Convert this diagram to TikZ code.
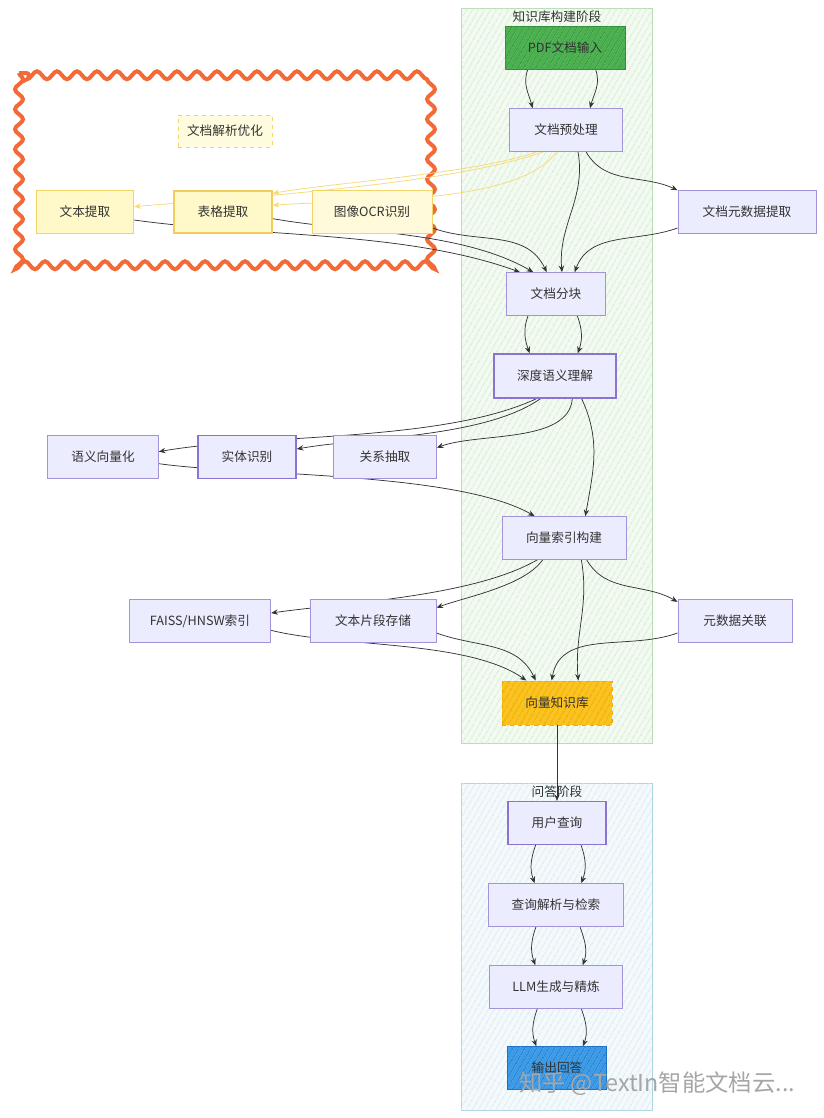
\documentclass[tikz,border=0pt]{standalone}
\usepackage{fontspec}
\setmainfont{Noto Sans CJK SC}
\usepackage{tikz}
\usepackage{xcolor}
\usetikzlibrary{positioning, arrows.meta, decorations.pathmorphing, patterns.meta}
\definecolor{lavfill}{HTML}{ECECFF}
\definecolor{lavline}{HTML}{A293DA}
\definecolor{lavdark}{HTML}{8B74CF}
\definecolor{edgegray}{HTML}{333333}
\definecolor{textgray}{HTML}{333333}
\definecolor{yfill}{HTML}{FFF8C8}
\definecolor{yline}{HTML}{F2D566}
\definecolor{yarrow}{HTML}{F5DA78}
\definecolor{pdfgreen}{HTML}{4BB04F}
\definecolor{pdfhatch}{HTML}{2F8F35}
\definecolor{kbamber}{HTML}{F9C322}
\definecolor{kbhatch}{HTML}{F2A900}
\definecolor{ansblue}{HTML}{3C9BE6}
\definecolor{anshatch}{HTML}{1C6FC6}
\definecolor{greenbg}{HTML}{F2FAF1}
\definecolor{greenline}{HTML}{B7DDB2}
\definecolor{greenhatch}{HTML}{CDEAC8}
\definecolor{bluebg}{HTML}{F4F9FC}
\definecolor{blueline}{HTML}{ABD4E6}
\definecolor{bluehatch}{HTML}{D3E7F1}
\definecolor{wavyorange}{HTML}{F26A38}
\pgfdeclarelayer{framelayer}
\pgfdeclarelayer{edgelayer}
\pgfsetlayers{framelayer,edgelayer,main}

\begin{document}
\begin{tikzpicture}[
    x=0.75pt, y=-0.75pt,
    font=\fontsize{9.5}{11}\selectfont,
    procbox/.style={rectangle, draw=lavline, fill=lavfill, line width=0.7pt, minimum height=32pt, inner sep=2pt, text=textgray},
    strongbox/.style={procbox, draw=lavdark, line width=1.1pt},
    parsebox/.style={rectangle, draw=yline, fill=yfill, line width=0.7pt, minimum height=32pt, inner sep=2pt, text=textgray},
    hatched/.style={postaction={pattern={Lines[angle=60,distance=4pt,line width=0.7pt]}, pattern color=#1}},
    phasebox/.style={rectangle, line width=0.7pt, inner sep=0pt},
    flow/.style={-{Stealth[length=5pt,width=4pt]}, draw=edgegray, line width=0.55pt},
    yflow/.style={flow, draw=yarrow}
]
\useasboundingbox (0,0) rectangle (824,1118);

% phase frames
\begin{pgfonlayer}{framelayer}
\fill[white] (0,0) rectangle (824,1118);
\node[phasebox, draw=greenline, fill=greenbg, hatched=greenhatch, minimum width=143.25pt, minimum height=551.25pt] (kbphase) at (556.5,375.5) {};
\node[phasebox, draw=blueline, fill=bluebg, hatched=bluehatch, minimum width=143.25pt, minimum height=245.25pt] (qaphase) at (556.5,946.5) {};
% parsing group
\draw[wavyorange, line width=3pt, decorate, decoration={snake, amplitude=3pt, segment length=15pt}] (19,73) rectangle (439,263);
\end{pgfonlayer}
\node[text=textgray, inner sep=0pt] (kbtitle) at (557,17) {知识库构建阶段};
\node[text=textgray, inner sep=0pt] (qatitle) at (557,792) {问答阶段};
\node[parsebox, dashed, fill=yfill!60, minimum width=70.5pt, minimum height=24pt] (optlabel) at (225,131) {文档解析优化};

% knowledge base nodes
\node[procbox, draw=pdfhatch, fill=pdfgreen, hatched=pdfhatch, minimum width=90pt] (pdf) at (565,48) {PDF文档输入};
\node[procbox, minimum width=85pt] (pre) at (566,130) {文档预处理};
\node[procbox, minimum width=103.5pt] (meta) at (747,212) {文档元数据提取};
\node[parsebox, minimum width=73pt] (txt) at (85,212) {文本提取};
\node[parsebox, draw=yline!90!orange, line width=1.6pt, minimum width=73pt] (tbl) at (223,212) {表格提取};
\node[parsebox, fill=yfill!70, minimum width=90pt] (ocr) at (372,212) {图像OCR识别};
\node[procbox, minimum width=74pt] (chunk) at (556,294) {文档分块};
\node[strongbox, minimum width=91.5pt, minimum height=33pt] (deep) at (555,376) {深度语义理解};
\node[procbox, minimum width=83pt] (vec) at (103,457) {语义向量化};
\node[strongbox, minimum width=73.5pt] (ent) at (247,457) {实体识别};
\node[procbox, minimum width=77pt] (rel) at (385,457) {关系抽取};
\node[procbox, minimum width=93pt] (idx) at (564,538) {向量索引构建};
\node[procbox, minimum width=106pt] (faiss) at (200,621) {FAISS/HNSW索引};
\node[procbox, minimum width=94.5pt] (frag) at (373,621) {文本片段存储};
\node[procbox, minimum width=85.5pt] (mlink) at (735,621) {元数据关联};
\node[procbox, draw=kbhatch, dashed, fill=kbamber, hatched=kbhatch, minimum width=82.5pt, minimum height=33pt] (kb) at (557,703) {向量知识库};

% question answering nodes
\node[strongbox, minimum width=73.5pt] (query) at (557,823) {用户查询};
\node[procbox, minimum width=101pt] (parse) at (556,905) {查询解析与检索};
\node[procbox, minimum width=100pt] (llm) at (556,987) {LLM生成与精炼};
\node[procbox, draw=anshatch, fill=ansblue, hatched=anshatch, minimum width=74pt] (ans) at (557,1068) {输出回答};

\begin{pgfonlayer}{edgelayer}
% edges: preprocessing
\draw[flow] ([xshift=-28pt]pdf.south) to[out=250,in=105] ([xshift=-25pt]pre.north);
\draw[flow] ([xshift=23pt]pdf.south) to[out=290,in=75] ([xshift=18pt]pre.north);
\draw[yflow] ([xshift=-17pt]pre.south) to[out=200,in=5,looseness=0.6] ([yshift=4pt]txt.east);
\draw[yflow] ([xshift=-22pt]pre.south) to[out=200,in=10,looseness=0.6] ([yshift=14pt]tbl.east);
\draw[yflow] ([xshift=-7pt]pre.south) to[out=235,in=5,looseness=0.6] ([yshift=5pt]tbl.east);
\draw[flow] ([xshift=15pt]pre.south) to[out=300,in=155] (meta.north west);
\draw[flow] ([xshift=9pt]pre.south) to[out=280,in=95] ([xshift=4.5pt]chunk.north);
\draw[flow] ([yshift=-6pt]txt.east) to[out=-8,in=160,looseness=0.8] ([xshift=-27pt]chunk.north);
\draw[flow] ([yshift=-5pt]tbl.east) to[out=-10,in=150,looseness=0.8] ([xshift=-17pt]chunk.north);
\draw[flow] ([yshift=-12pt]ocr.east) to[out=-20,in=115] ([xshift=-7pt]chunk.north);
\draw[flow] ([yshift=-12pt]meta.west) to[out=200,in=70] ([xshift=14pt]chunk.north);

% edges: understanding
\draw[flow] ([xshift=-21pt]chunk.south) to[out=250,in=110] ([xshift=-19pt]deep.north);
\draw[flow] ([xshift=16pt]chunk.south) to[out=290,in=70] ([xshift=17pt]deep.north);
\draw[flow] ([xshift=-14pt]deep.south) to[out=205,in=10,looseness=0.7] ([yshift=4pt]vec.east);
\draw[flow] ([xshift=-11pt]deep.south) to[out=215,in=10,looseness=0.7] ([yshift=6pt]ent.east);
\draw[flow] ([xshift=13pt]deep.south) to[out=265,in=20,looseness=0.8] ([yshift=7pt]rel.east);
\draw[flow] ([xshift=20pt]deep.south) to[out=295,in=80] ([xshift=16pt]idx.north);
\draw[flow] ([yshift=-5pt]vec.east) to[out=-8,in=150,looseness=0.6] ([xshift=-22pt]idx.north);

% edges: indexing
\draw[flow] ([xshift=-20pt]idx.south) to[out=210,in=8,looseness=0.7] ([yshift=6pt]faiss.east);
\draw[flow] ([xshift=-16pt]idx.south) to[out=235,in=20,looseness=0.7] ([yshift=10pt]frag.east);
\draw[flow] ([xshift=17pt]idx.south) to[out=300,in=150] ([yshift=-2pt]mlink.north west);
\draw[flow] ([xshift=13pt]idx.south) to[out=280,in=95] ([xshift=16pt]kb.north);
\draw[flow] ([yshift=-7pt]faiss.east) to[out=-14,in=145,looseness=0.7] ([xshift=-23pt]kb.north);
\draw[flow] ([yshift=-9pt]frag.east) to[out=-20,in=115] ([xshift=-16pt]kb.north);
\draw[flow] ([yshift=-9pt]mlink.west) to[out=200,in=80] ([xshift=-4pt]kb.north);
\draw[flow] (kb.south) -- (query.north);

% edges: answering
\draw[flow] ([xshift=-16pt]query.south) to[out=250,in=110] ([xshift=-16pt]parse.north);
\draw[flow] ([xshift=18pt]query.south) to[out=290,in=70] ([xshift=19pt]parse.north);
\draw[flow] ([xshift=-15pt]parse.south) to[out=250,in=110] ([xshift=-15.5pt]llm.north);
\draw[flow] ([xshift=18pt]parse.south) to[out=290,in=70] ([xshift=20pt]llm.north);
\draw[flow] ([xshift=-14pt]llm.south) to[out=250,in=110] ([xshift=-15.5pt]ans.north);
\draw[flow] ([xshift=19pt]llm.south) to[out=290,in=70] ([xshift=19.5pt]ans.north);
\end{pgfonlayer}

% watermark
\node[text=black!35, font=\fontsize{17.5}{20}\selectfont, inner sep=0pt] (mark) at (657,1084) {知乎 @TextIn智能文档云...};
\end{tikzpicture}
\end{document}
